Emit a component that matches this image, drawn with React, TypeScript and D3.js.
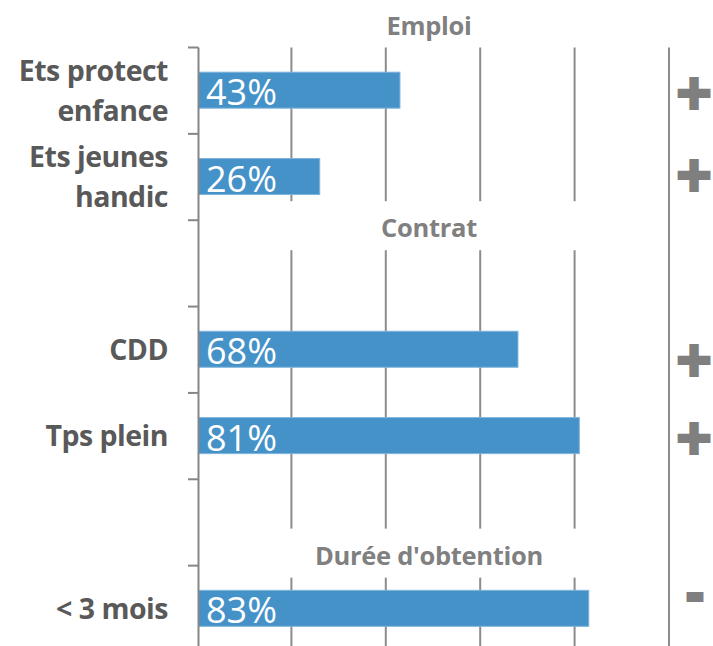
import React, { useEffect, useRef } from 'react';
import * as d3 from 'd3';

// rows of the chart, blanks are the spacer rows that hold the group titles
const categories = ['Ets protect|enfance', 'Ets jeunes|handic', '', 'CDD', 'Tps plein', '', '< 3 mois'];
const values: (number | null)[] = [0.43, 0.26, null, 0.68, 0.81, null, 0.83];
const signs = ['+', '+', '', '+', '+', '', '-'];
const groupTitles = ['Emploi', 'Contrat', "Durée d'obtention"];
const xTicks = [0, 0.2, 0.4, 0.6, 0.8, 1.0];

const width = 713;
const height = 646;

const App = () => {
    const svgRef = useRef<SVGSVGElement>(null);

    useEffect(() => {
        const svg = d3.select(svgRef.current);
        svg.selectAll('*').remove();

        const x = d3.scaleLinear().domain([0, 1]).range([197, 669]);
        const y = d3.scaleBand<number>()
            .domain(d3.range(categories.length))
            .range([47.5, 652]);
        const bw = y.bandwidth();
        const barH = 36;
        const center = (i: number) => (y(i) as number) + bw / 2;

        const gridColor = '#8c8c8c';
        const font = "'Open Sans', sans-serif";

        // vertical gridlines
        svg.append('g')
            .selectAll('line')
            .data(xTicks.slice(1))
            .join('line')
            .attr('x1', d => x(d)).attr('x2', d => x(d))
            .attr('y1', y(0) as number).attr('y2', height + 10)
            .attr('stroke', gridColor)
            .attr('stroke-width', 2);

        // group titles (white box hides the gridlines behind them)
        const titleY = [y(0)! - 22, y(2)! + 8, y(6)! - 10];
        const titles = svg.append('g');
        groupTitles.forEach((t, i) => {
            if (i > 0) {
                titles.append('rect')
                    .attr('x', x(0) + 6).attr('width', x(0.98) - x(0) - 6)
                    .attr('y', titleY[i] - 27).attr('height', 49)
                    .attr('fill', '#fff');
            }
            titles.append('text')
                .attr('x', 429).attr('y', titleY[i] + 9)
                .attr('text-anchor', 'middle')
                .attr('font-family', font)
                .attr('font-weight', 700)
                .attr('font-size', 25.5)
                .attr('letter-spacing', -0.3)
                .attr('fill', '#808080')
                .text(t);
        });

        // bars
        const rows = d3.range(categories.length).filter(i => values[i] != null);
        svg.append('g')
            .selectAll('rect')
            .data(rows)
            .join('rect')
            .attr('x', x(0) + 1.5)
            .attr('y', i => center(i) - barH / 2 - 0.5)
            .attr('width', i => x(values[i] as number) - x(0) - 1.5)
            .attr('height', barH)
            .attr('fill', '#4592c9')
            .attr('stroke', '#7fb3dc')
            .attr('stroke-width', 1);

        svg.append('g')
            .selectAll('text')
            .data(rows)
            .join('text')
            .attr('x', x(0) + 9)
            .attr('y', i => center(i) + barH / 2 - 3.5)
            .attr('font-family', font)
            .attr('font-size', 36)
            .attr('fill', '#fff')
            .text(i => `${Math.round((values[i] as number) * 100)}%`);

        // y axis
        const axisColor = '#868686';
        const ax = svg.append('g');
        ax.append('line')
            .attr('x1', x(0) + 1.5).attr('x2', x(0) + 1.5)
            .attr('y1', y(0) as number).attr('y2', height + 10)
            .attr('stroke', axisColor).attr('stroke-width', 2);
        ax.selectAll('line.tick')
            .data(d3.range(categories.length + 1))
            .join('line')
            .attr('class', 'tick')
            .attr('x1', x(0) - 9).attr('x2', x(0) + 1.5)
            .attr('y1', i => (y(0) as number) + i * bw)
            .attr('y2', i => (y(0) as number) + i * bw)
            .attr('stroke', axisColor).attr('stroke-width', 2);

        // category labels, '|' marks the line break
        const labels = svg.append('g')
            .attr('font-family', font)
            .attr('font-weight', 700)
            .attr('font-size', 28.5)
            .attr('letter-spacing', -0.5)
            .attr('fill', '#595959')
            .attr('text-anchor', 'end');
        categories.forEach((c, i) => {
            if (!c) return;
            const lines = c.split('|');
            const lh = 40;
            const t = labels.append('text');
            lines.forEach((l, k) => {
                t.append('tspan')
                    .attr('x', 168)
                    .attr('y', center(i) + 10 - (lines.length - 1) * lh / 2 + k * lh)
                    .text(l);
            });
        });

        // signs on the right
        const signY = [0, -4, 0, 8, 0, 0, -17];
        svg.append('g')
            .selectAll('text')
            .data(d3.range(categories.length).filter(i => signs[i]))
            .join('text')
            .attr('x', i => signs[i] === '+' ? 694 : 695)
            .attr('y', i => center(i) + signY[i] + 17)
            .attr('text-anchor', 'middle')
            .attr('font-family', "'DejaVu Sans', sans-serif")
            .attr('font-weight', 700)
            .attr('font-size', i => signs[i] === '+' ? 46 : 42)
            .attr('fill', '#7f7f7f')
            .attr('stroke', '#7f7f7f')
            .attr('stroke-width', 4)
            .text(i => signs[i]);
    }, []);

    return (
        <svg ref={svgRef} width={width} height={height}
            style={{ position: 'absolute', left: 0, top: 0, background: '#fff' }} />
    );
};

export default App;
